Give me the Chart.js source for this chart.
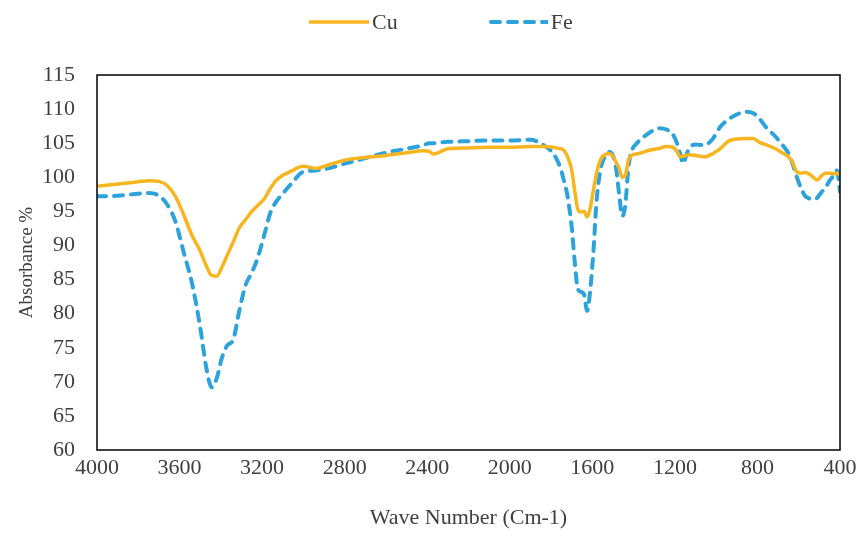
<!DOCTYPE html>
<html>
<head>
<meta charset="utf-8">
<script src="https://cdn.jsdelivr.net/npm/chart.js@4.4.1/dist/chart.umd.min.js"></script>
<style>
  body { margin: 0; background: #fff; }
  #wrap { position: relative; width: 863px; height: 547px; }
  #legend { position: absolute; top: 9px; left: 309px; display: flex; align-items: center;
            font: 22px "Liberation Serif", "Times New Roman", serif; color: #404040; }
  #legend .item { display: flex; align-items: center; margin-right: 90px; }
  #legend svg { margin-right: 3px; }
</style>
</head>
<body>
<div id="wrap">
  <canvas id="ftir-chart" width="863" height="547"></canvas>
  <div id="legend"></div>
</div>
<script>
// wave numbers (cm-1)
var waveNumbers = [4000,3900,3800,3750,3700,3660,3620,3580,3540,3500,3470,3445,3420,3395,3370,3340,3310,3280,3250,3220,3190,3160,3130,3100,3060,3000,2940,2880,2800,2700,2600,2500,2420,2390,2370,2340,2300,2200,2100,2000,1900,1840,1790,1760,1740,1720,1700,1685,1670,1655,1640,1625,1610,1595,1580,1560,1540,1520,1500,1485,1470,1455,1440,1425,1410,1390,1360,1320,1280,1240,1210,1190,1175,1160,1145,1130,1100,1060,1020,980,940,900,860,820,790,760,720,680,650,630,610,590,570,550,530,510,490,470,450,430,415,400];

var cuValues = [98.7,99.0,99.35,99.5,99.4,98.8,97.2,94.5,91.5,89.2,87.0,85.6,85.5,86.8,88.5,90.5,92.6,93.8,95.0,95.9,96.8,98.4,99.6,100.3,100.9,101.6,101.3,101.8,102.5,102.9,103.2,103.6,103.9,103.8,103.4,103.7,104.2,104.3,104.4,104.4,104.5,104.5,104.4,104.2,104.0,103.0,101.1,98.0,95.3,94.9,95.0,94.2,95.5,98.1,100.5,102.6,103.3,103.5,103.1,102.2,101.3,100.0,100.3,102.5,103.2,103.4,103.6,104.0,104.2,104.5,104.4,103.8,103.0,103.1,103.2,103.3,103.2,103.0,103.4,104.2,105.3,105.6,105.7,105.7,105.1,104.8,104.3,103.6,103.0,102.2,100.8,100.6,100.7,100.5,100.0,99.6,100.2,100.6,100.6,100.5,100.6,100.4];

var feValues = [97.2,97.3,97.6,97.7,97.3,96.0,93.5,89.0,84.5,78.0,72.0,69.2,70.5,73.5,75.3,76.2,80.5,84.2,86.0,88.3,91.5,94.8,96.5,97.6,99.0,100.8,101.0,101.3,102.0,102.8,103.6,104.2,104.7,105.0,105.0,105.1,105.2,105.3,105.4,105.4,105.5,104.8,103.5,101.8,99.8,97.2,92.7,87.5,83.6,83.2,82.8,80.4,83.5,89.0,96.3,101.2,103.0,103.7,103.2,101.3,97.5,94.3,96.0,101.5,103.8,104.8,105.7,106.6,107.2,107.0,106.3,105.0,103.5,102.0,103.2,104.3,104.8,104.7,105.5,107.4,108.5,109.2,109.6,109.4,108.6,107.4,106.2,104.8,103.5,102.0,100.1,98.5,97.3,96.9,96.8,97.0,97.8,98.5,99.5,100.3,101.0,97.9];

var xTicks = [4000,3600,3200,2800,2400,2000,1600,1200,800,400];
var yTicks = [60,65,70,75,80,85,90,95,100,105,110,115];

var serif = '"Liberation Serif", "Times New Roman", serif';
var textColor = '#404040';

function toPoints(values) {
  return waveNumbers.map(function (w, i) { return { x: w, y: values[i] }; });
}

// black frame around the plot area
var frame = {
  id: 'frame',
  afterDraw: function (chart) {
    var a = chart.chartArea, ctx = chart.ctx;
    ctx.save();
    ctx.strokeStyle = '#000';
    ctx.lineWidth = 1.5;
    ctx.strokeRect(a.left, a.top, a.right - a.left, a.bottom - a.top);
    ctx.restore();
  }
};

var chart = new Chart(document.getElementById("ftir-chart"), {
  type: 'line',
  data: {
    datasets: [{
        data: toPoints(cuValues),
        label: "Cu",
        borderColor: "#F7B520",
        borderWidth: 3.5,
        pointRadius: 0,
        cubicInterpolationMode: 'monotone',
        fill: false
      }, {
        data: toPoints(feValues),
        label: "Fe",
        borderColor: "#2EA3DB",
        borderWidth: 4,
        borderDash: [9, 8],
        borderCapStyle: 'round',
        pointRadius: 0,
        cubicInterpolationMode: 'monotone',
        fill: false
      }
    ]
  },
  options: {
    responsive: false,
    animation: false,
    layout: { padding: { top: 75, right: 23, left: 0, bottom: 0 } },
    plugins: {
      legend: { display: false },
      tooltip: { enabled: false }
    },
    scales: {
      x: {
        type: 'linear',
        reverse: true,
        min: 400,
        max: 4000,
        afterBuildTicks: function (s) { s.ticks = xTicks.map(function (v) { return { value: v }; }); },
        afterFit: function (s) { s.height = 97; },
        ticks: {
          font: { family: serif, size: 22 }, color: textColor, padding: 5, maxRotation: 0,
          callback: function (v) { return String(v); }
        },
        grid: { display: false, drawTicks: false },
        border: { display: false },
        title: {
          display: true,
          text: 'Wave Number (Cm-1)',
          font: { family: serif, size: 22 },
          color: textColor,
          padding: { top: 0, bottom: 16 }
        }
      },
      y: {
        min: 60,
        max: 115,
        afterBuildTicks: function (s) { s.ticks = yTicks.map(function (v) { return { value: v }; }); },
        afterFit: function (s) { s.width = 97; },
        ticks: {
          font: { family: serif, size: 22 }, color: textColor, padding: 22,
          callback: function (v) { return String(v); }
        },
        grid: { display: false, drawTicks: false },
        border: { display: false },
        title: {
          display: true,
          text: 'Absorbance %',
          font: { family: serif, size: 19 },
          color: textColor,
          padding: { top: 16, bottom: 0 }
        }
      }
    }
  },
  plugins: [frame]
});

// HTML legend built from the datasets
var legend = document.getElementById('legend');
chart.data.datasets.forEach(function (ds) {
  var item = document.createElement('div');
  item.className = 'item';
  var dash = ds.borderDash ? ' stroke-dasharray="9 8" stroke-linecap="round"' : '';
  item.innerHTML = '<svg width="60" height="8"><line x1="' + (ds.borderDash ? 3 : 0) + '" y1="4" x2="60" y2="4" stroke="' +
    ds.borderColor + '" stroke-width="' + ds.borderWidth + '"' + dash + '/></svg><span>' + ds.label + '</span>';
  legend.appendChild(item);
});
</script>
</body>
</html>
